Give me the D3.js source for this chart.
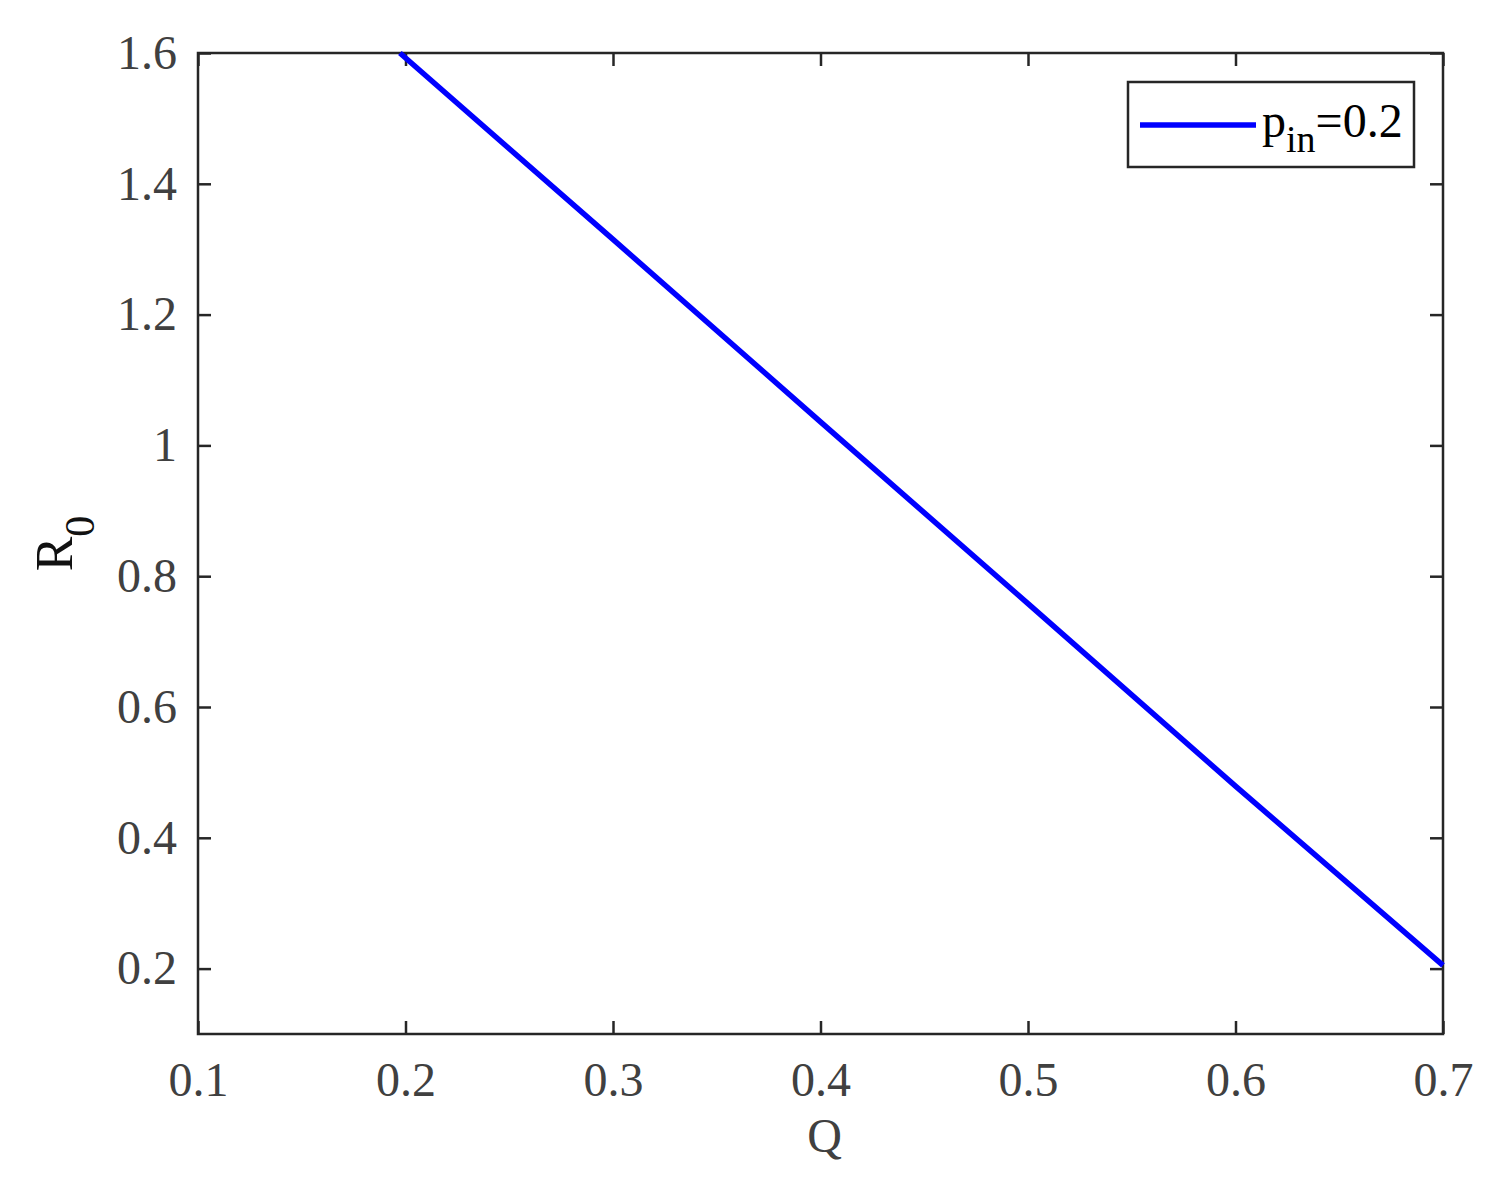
<!DOCTYPE html>
<html>
<head>
<meta charset="utf-8">
<script src="https://cdn.jsdelivr.net/npm/d3@7"></script>
<style>
  body { margin: 0; background: #fff; }
  text { font-family: "Liberation Serif", "Times New Roman", serif; }
</style>
</head>
<body>
<div id="chart"></div>
<script>
// values
var qValues = [0.1973, 0.3, 0.4, 0.5, 0.6, 0.7];
var r0Values = [1.6, 1.315, 1.036, 0.758, 0.479, 0.205];
var xTicks = [0.1, 0.2, 0.3, 0.4, 0.5, 0.6, 0.7];
var yTicks = [0.2, 0.4, 0.6, 0.8, 1, 1.2, 1.4, 1.6];
var seriesName = "p_in=0.2";

var margin = { top: 53, right: 58, bottom: 165, left: 198 };
var width = 1501 - margin.left - margin.right,
    height = 1199 - margin.top - margin.bottom;

var svg = d3.select("#chart").append("svg")
  .attr("width", 1501)
  .attr("height", 1199);

var g = svg.append("g")
  .attr("transform", "translate(" + margin.left + "," + margin.top + ")");

var x = d3.scaleLinear().domain([0.1, 0.7]).range([0, width]);
var y = d3.scaleLinear().domain([0.1, 1.6]).range([height, 0]);

var tickLen = 13;
var labelColor = "#404040";

// box
g.append("rect")
  .attr("width", width).attr("height", height)
  .attr("fill", "none").attr("stroke", "#262626").attr("stroke-width", 2.5);

// axes (ticks inward on all four sides)
var xAxis = g.append("g").attr("transform", "translate(0," + height + ")")
  .call(d3.axisBottom(x).tickValues(xTicks).tickSizeInner(-tickLen).tickSizeOuter(0).tickPadding(28)
    .tickFormat(d3.format(".1f")));
var xAxisTop = g.append("g")
  .call(d3.axisTop(x).tickValues(xTicks).tickSizeInner(-tickLen).tickSizeOuter(0).tickFormat(""));
var yAxis = g.append("g")
  .call(d3.axisLeft(y).tickValues(yTicks).tickSizeInner(-tickLen).tickSizeOuter(0).tickPadding(21)
    .tickFormat(function(d) { return d === 1 ? "1" : d3.format(".1f")(d); }));
var yAxisRight = g.append("g").attr("transform", "translate(" + width + ",0)")
  .call(d3.axisRight(y).tickValues(yTicks).tickSizeInner(-tickLen).tickSizeOuter(0).tickFormat(""));

[xAxis, xAxisTop, yAxis, yAxisRight].forEach(function(a) {
  a.select(".domain").remove();
  a.selectAll(".tick line").attr("stroke", "#262626").attr("stroke-width", 2.5);
  a.selectAll(".tick text").attr("fill", labelColor).attr("font-size", 48)
    .attr("font-family", "Liberation Serif, Times New Roman, serif");
});
xAxis.selectAll(".tick text").attr("dy", "0.71em");

// line
var line = d3.line()
  .x(function(d, i) { return x(qValues[i]); })
  .y(function(d) { return y(d); });

g.append("path")
  .datum(r0Values)
  .attr("fill", "none")
  .attr("stroke", "#0000ff")
  .attr("stroke-width", 5.5)
  .attr("d", line);

// axis labels
g.append("text")
  .attr("x", width / 2 + 4).attr("y", height + 118)
  .attr("text-anchor", "middle")
  .attr("font-size", 48).attr("fill", labelColor)
  .text("Q");

var yl = g.append("text")
  .attr("transform", "translate(-126," + (height / 2) + ") rotate(-90)")
  .attr("text-anchor", "middle")
  .attr("font-size", 52).attr("fill", "#111");
yl.append("tspan").text("R");
yl.append("tspan").attr("font-size", 42).attr("dy", 22).text("0");

// legend
var parts = seriesName.split("=");
var sub = parts[0].split("_");
var leg = g.append("g").attr("transform", "translate(" + (1128 - margin.left) + "," + (82 - margin.top) + ")");
leg.append("rect")
  .attr("width", 286).attr("height", 85)
  .attr("fill", "#fff").attr("stroke", "#262626").attr("stroke-width", 2.5);
leg.append("line")
  .attr("x1", 12).attr("x2", 128).attr("y1", 43).attr("y2", 43)
  .attr("stroke", "#0000ff").attr("stroke-width", 5.5);
var lt = leg.append("text").attr("x", 134).attr("y", 55)
  .attr("font-size", 48).attr("fill", "#000");
lt.append("tspan").text(sub[0]);
lt.append("tspan").attr("font-size", 38).attr("dy", 15).text(sub[1]);
lt.append("tspan").attr("dy", -15).text("=" + parts[1]);
</script>
</body>
</html>
